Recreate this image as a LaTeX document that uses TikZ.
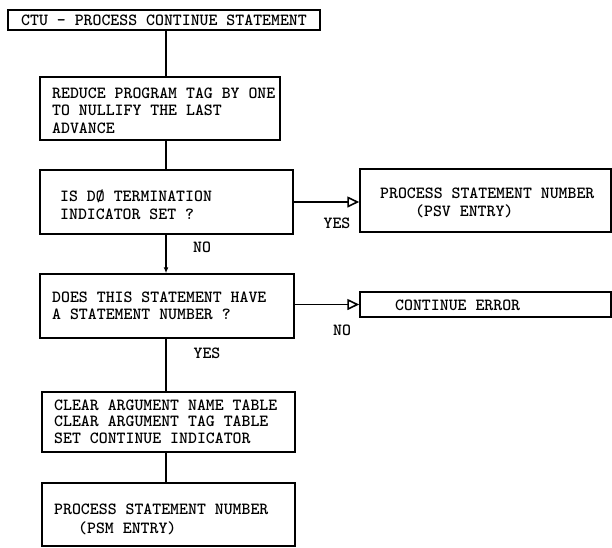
\documentclass[tikz,border=0pt]{standalone}
\usetikzlibrary{arrows.meta}
\begin{document}
\begin{tikzpicture}[x=1pt,y=-1pt,
  box/.style={draw, line width=1.5pt, inner sep=0pt},
  conn/.style={line width=1.6pt},
  arr/.style={-{Triangle[open, length=12pt, width=11pt, line width=1.6pt]}},
  txt/.style={font=\fontsize{17}{17.5}\selectfont\ttfamily\bfseries, inner sep=0pt, align=left, anchor=west},
  lbl/.style={font=\fontsize{17}{17.5}\selectfont\ttfamily\bfseries, inner sep=0pt}]
\useasboundingbox (0,0) rectangle (612,547);
\coordinate (sp) at (166,0);
% boxes
\node[box, minimum width=312pt, minimum height=20pt, font=\fontsize{17}{17.5}\selectfont\ttfamily\bfseries] (b1) at (164,20) {CTU - PROCESS CONTINUE STATEMENT};
\node[box, minimum width=240pt, minimum height=63pt] (b2) at (160,108.5) {};
\node[box, minimum width=253pt, minimum height=64pt] (b3) at (166.5,202) {};
\node[box, minimum width=251pt, minimum height=63pt] (b4) at (485.5,200.5) {};
\node[box, minimum width=254pt, minimum height=64pt] (b5) at (167,306) {};
\node[box, minimum width=251pt, minimum height=25pt] (ce) at (485.5,304.5) {};
\node[box, minimum width=253pt, minimum height=60pt] (b6) at (168.5,422) {};
\node[box, minimum width=253pt, minimum height=63pt] (b7) at (168.5,514.5) {};
% texts
\node[txt] (t2) at (52,110.5) {REDUCE PROGRAM TAG BY ONE\\TO NULLIFY THE LAST\\ADVANCE};
\node[txt] (t3) at (60,204.5) {IS DØ TERMINATION\\INDICATOR SET ?};
\node[txt] (t4) at (380,203) {PROCESS STATEMENT NUMBER\\\hspace*{35pt}(PSV ENTRY)};
\node[txt] (t5) at (52,306) {DOES THIS STATEMENT HAVE\\A STATEMENT NUMBER ?};
\node[txt] (tce) at (395,305) {CONTINUE ERROR};
\node[txt] (t6) at (54,421.5) {CLEAR ARGUMENT NAME TABLE\\[-1pt]CLEAR ARGUMENT TAG TABLE\\[-1pt]SET CONTINUE INDICATOR};
\node[txt] (t7) at (54,519.5) {PROCESS STATEMENT NUMBER\\[1.5pt]\hspace*{24pt}(PSM ENTRY)};
% labels
\node[lbl] (yes1) at (337,223) {YES};
\node[lbl] (no1) at (202,247) {NO};
\node[lbl] (no2) at (342,330) {NO};
\node[lbl] (yes2) at (207,353) {YES};
% connectors
\draw[conn] (b1.south -| sp) -- (b2.north -| sp);
\draw[conn] (b2.south -| sp) -- (b3.north -| sp);
\draw[conn, -{Latex[length=6pt, width=5pt]}] (b3.south -| sp) -- (b5.north -| sp);
\draw[conn] (b5.south -| sp) -- (b6.north -| sp);
\draw[conn] (b6.south -| sp) -- (b7.north -| sp);
\draw[conn, arr] (b3.east) -- (b3.east -| b4.west);
\draw[conn, arr] (ce.west -| b5.east) -- (ce.west);
\end{tikzpicture}
\end{document}
